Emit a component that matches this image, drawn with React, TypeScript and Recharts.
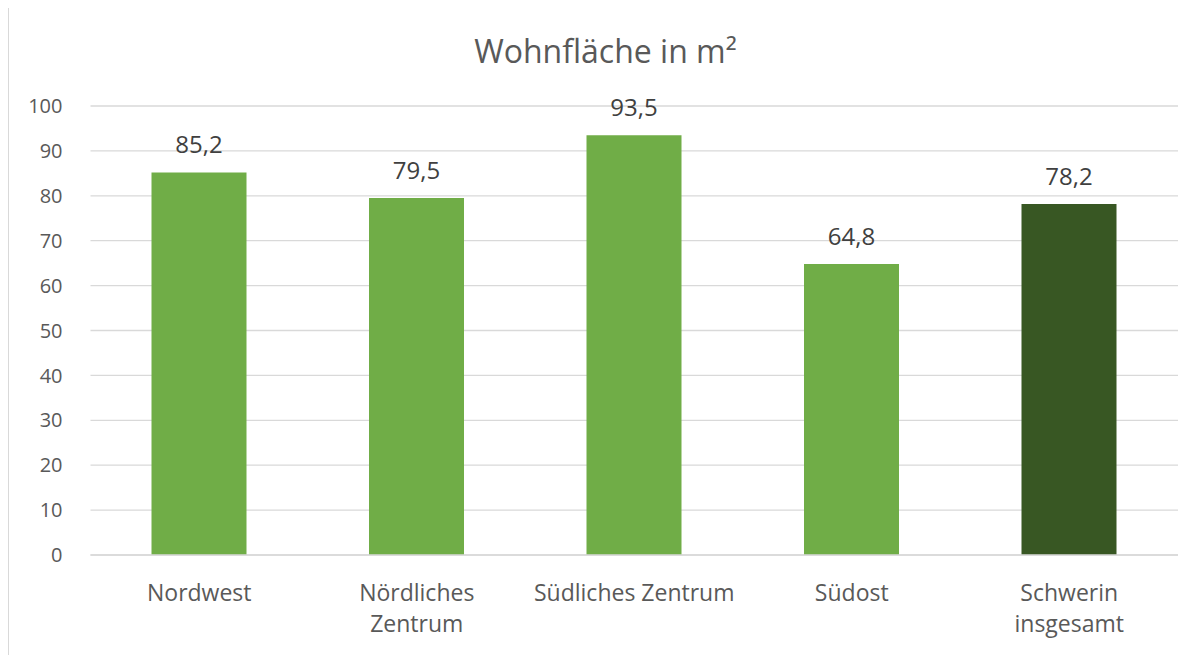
import { BarChart, Bar, XAxis, YAxis, CartesianGrid, Cell, LabelList } from "recharts";

const categories = ["Nordwest", "Nördliches\nZentrum", "Südliches Zentrum", "Südost", "Schwerin\ninsgesamt"];
const wohnflaeche = [85.2, 79.5, 93.5, 64.8, 78.2];
const yTicks = [0, 10, 20, 30, 40, 50, 60, 70, 80, 90, 100];

const FONT = "'Open Sans', sans-serif";
const GREEN = "#70AD47";
const DARK_GREEN = "#385723";

const data = categories.map((name, i) => ({ name, value: wohnflaeche[i] }));

function CategoryTick(props: any) {
  const { x, y, payload } = props;
  const lines = String(payload.value).split("\n");
  return (
    <g transform={`translate(${x},${y})`}>
      <text textAnchor="middle" fill="#595959" fontSize={23} fontFamily={FONT}>
        {lines.map((line, i) => (
          <tspan key={i} x={0} dy={i === 0 ? "0.71em" : 31}>
            {line}
          </tspan>
        ))}
      </text>
    </g>
  );
}

export default function App() {
  return (
    <div
      style={{
        position: "relative",
        width: 1193,
        height: 647,
        marginTop: -1,
        borderTop: "1px solid #D9D9D9",
        borderLeft: "1px solid #D9D9D9",
        background: "#fff",
        fontFamily: FONT,
      }}
    >
      <div
        style={{
          position: "absolute",
          top: 27,
          left: 0,
          width: 1193,
          textAlign: "center",
          fontSize: 32,
          lineHeight: "32px",
          color: "#595959",
        }}
      >
        Wohnfläche in m²
      </div>
      <BarChart
        width={1193}
        height={647}
        data={data}
        margin={{ top: 98, right: 24, left: 0, bottom: 0 }}
        barSize={95}
      >
        <CartesianGrid vertical={false} stroke="#D9D9D9" strokeWidth={1.3} />
        <XAxis
          dataKey="name"
          height={100}
          axisLine={{ stroke: "#D9D9D9", strokeWidth: 1.3 }}
          tickLine={false}
          tickSize={0}
          tickMargin={30}
          interval={0}
          tick={<CategoryTick />}
        />
        <YAxis
          width={81.5}
          domain={[0, 100]}
          ticks={yTicks}
          axisLine={false}
          tickLine={false}
          tickSize={0}
          tickMargin={28}
          tick={{ fill: "#595959", fontSize: 20, fontFamily: FONT }}
        />
        <Bar dataKey="value" isAnimationActive={false}>
          {data.map((d, i) => (
            <Cell key={d.name} fill={i === data.length - 1 ? DARK_GREEN : GREEN} />
          ))}
          <LabelList
            dataKey="value"
            position="top"
            offset={19}
            fill="#404040"
            fontSize={24}
            fontFamily={FONT}
            formatter={(v: any) => String(v).replace(".", ",")}
          />
        </Bar>
      </BarChart>
    </div>
  );
}
